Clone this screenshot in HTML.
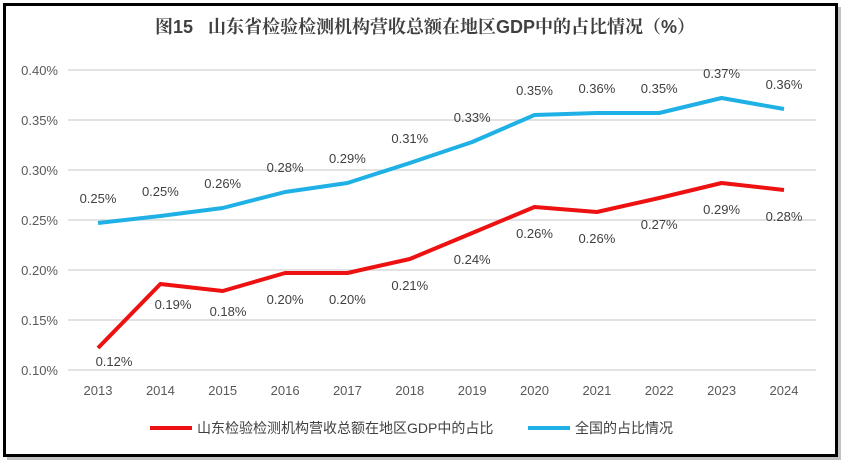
<!DOCTYPE html>
<html><head><meta charset="utf-8"><style>
html,body{margin:0;padding:0;background:#fff;width:850px;height:468px;overflow:hidden}
svg{display:block}
text{font-family:"Liberation Sans","Noto Sans CJK SC",sans-serif}
text.title{font-family:"Liberation Sans","Noto Serif CJK SC",serif}
</style></head><body>
<svg width="850" height="468" viewBox="0 0 850 468">
<rect x="7" y="7" width="834" height="453" fill="#9a9a9a" opacity="0.6"/>
<rect x="4.5" y="4.5" width="832" height="451" fill="#fff" stroke="#000" stroke-width="3"/>
<text class="title" x="425" y="33" text-anchor="middle" font-size="18" font-weight="bold" fill="#404040" xml:space="preserve">图15   山东省检验检测机构营收总额在地区GDP中的占比情况（%）</text>
<g stroke="#d9d9d9" stroke-width="1.5">
<line x1="68" y1="70" x2="816" y2="70"/><line x1="68" y1="120" x2="816" y2="120"/>
<line x1="68" y1="170" x2="816" y2="170"/><line x1="68" y1="220" x2="816" y2="220"/>
<line x1="68" y1="270" x2="816" y2="270"/><line x1="68" y1="320" x2="816" y2="320"/>
<line x1="68" y1="370" x2="816" y2="370"/>
</g>
<g font-size="13" fill="#595959" text-anchor="end">
<text x="58" y="75">0.40%</text><text x="58" y="125">0.35%</text><text x="58" y="175">0.30%</text>
<text x="58" y="225">0.25%</text><text x="58" y="275">0.20%</text><text x="58" y="325">0.15%</text>
<text x="58" y="375">0.10%</text>
</g>
<g font-size="13" fill="#595959" text-anchor="middle">
<text x="98" y="395">2013</text><text x="160.4" y="395">2014</text><text x="222.7" y="395">2015</text>
<text x="285.1" y="395">2016</text><text x="347.4" y="395">2017</text><text x="409.8" y="395">2018</text>
<text x="472.2" y="395">2019</text><text x="534.5" y="395">2020</text><text x="596.9" y="395">2021</text>
<text x="659.2" y="395">2022</text><text x="721.6" y="395">2023</text><text x="784" y="395">2024</text>
</g>
<polyline fill="none" stroke="#1fb1e6" stroke-width="4" stroke-linejoin="round" points="98,223 160.4,216 222.7,208 285.1,192 347.4,183 409.8,163 472.2,142 534.5,115 596.9,113 659.2,113 721.6,98 784,109"/>
<polyline fill="none" stroke="#ee1111" stroke-width="4" stroke-linejoin="round" points="98,348 160.4,284 222.7,291 285.1,273 347.4,273 409.8,259 472.2,233 534.5,207 596.9,212 659.2,198 721.6,183 784,190"/>
<g font-size="13" fill="#404040" text-anchor="middle">
<text x="98" y="203">0.25%</text><text x="160.4" y="196">0.25%</text><text x="222.7" y="188">0.26%</text>
<text x="285.1" y="172">0.28%</text><text x="347.4" y="163">0.29%</text><text x="409.8" y="143">0.31%</text>
<text x="472.2" y="122">0.33%</text><text x="534.5" y="95">0.35%</text><text x="596.9" y="93">0.36%</text>
<text x="659.2" y="93">0.35%</text><text x="721.6" y="78">0.37%</text><text x="784" y="89">0.36%</text>
<text x="114" y="366">0.12%</text><text x="173" y="309">0.19%</text><text x="228" y="316">0.18%</text>
<text x="285.1" y="304">0.20%</text><text x="347.4" y="304">0.20%</text><text x="409.8" y="290">0.21%</text>
<text x="472.2" y="264">0.24%</text><text x="534.5" y="238">0.26%</text><text x="596.9" y="243">0.26%</text>
<text x="659.2" y="229">0.27%</text><text x="721.6" y="214">0.29%</text><text x="784" y="221">0.28%</text>
</g>
<line x1="150" y1="428" x2="192" y2="428" stroke="#ee1111" stroke-width="4"/>
<text x="197" y="433" font-size="14" fill="#404040">山东检验检测机构营收总额在地区GDP中的占比</text>
<line x1="528" y1="428" x2="570" y2="428" stroke="#1fb1e6" stroke-width="4"/>
<text x="575" y="433" font-size="14" fill="#404040">全国的占比情况</text>
</svg>
</body></html>
